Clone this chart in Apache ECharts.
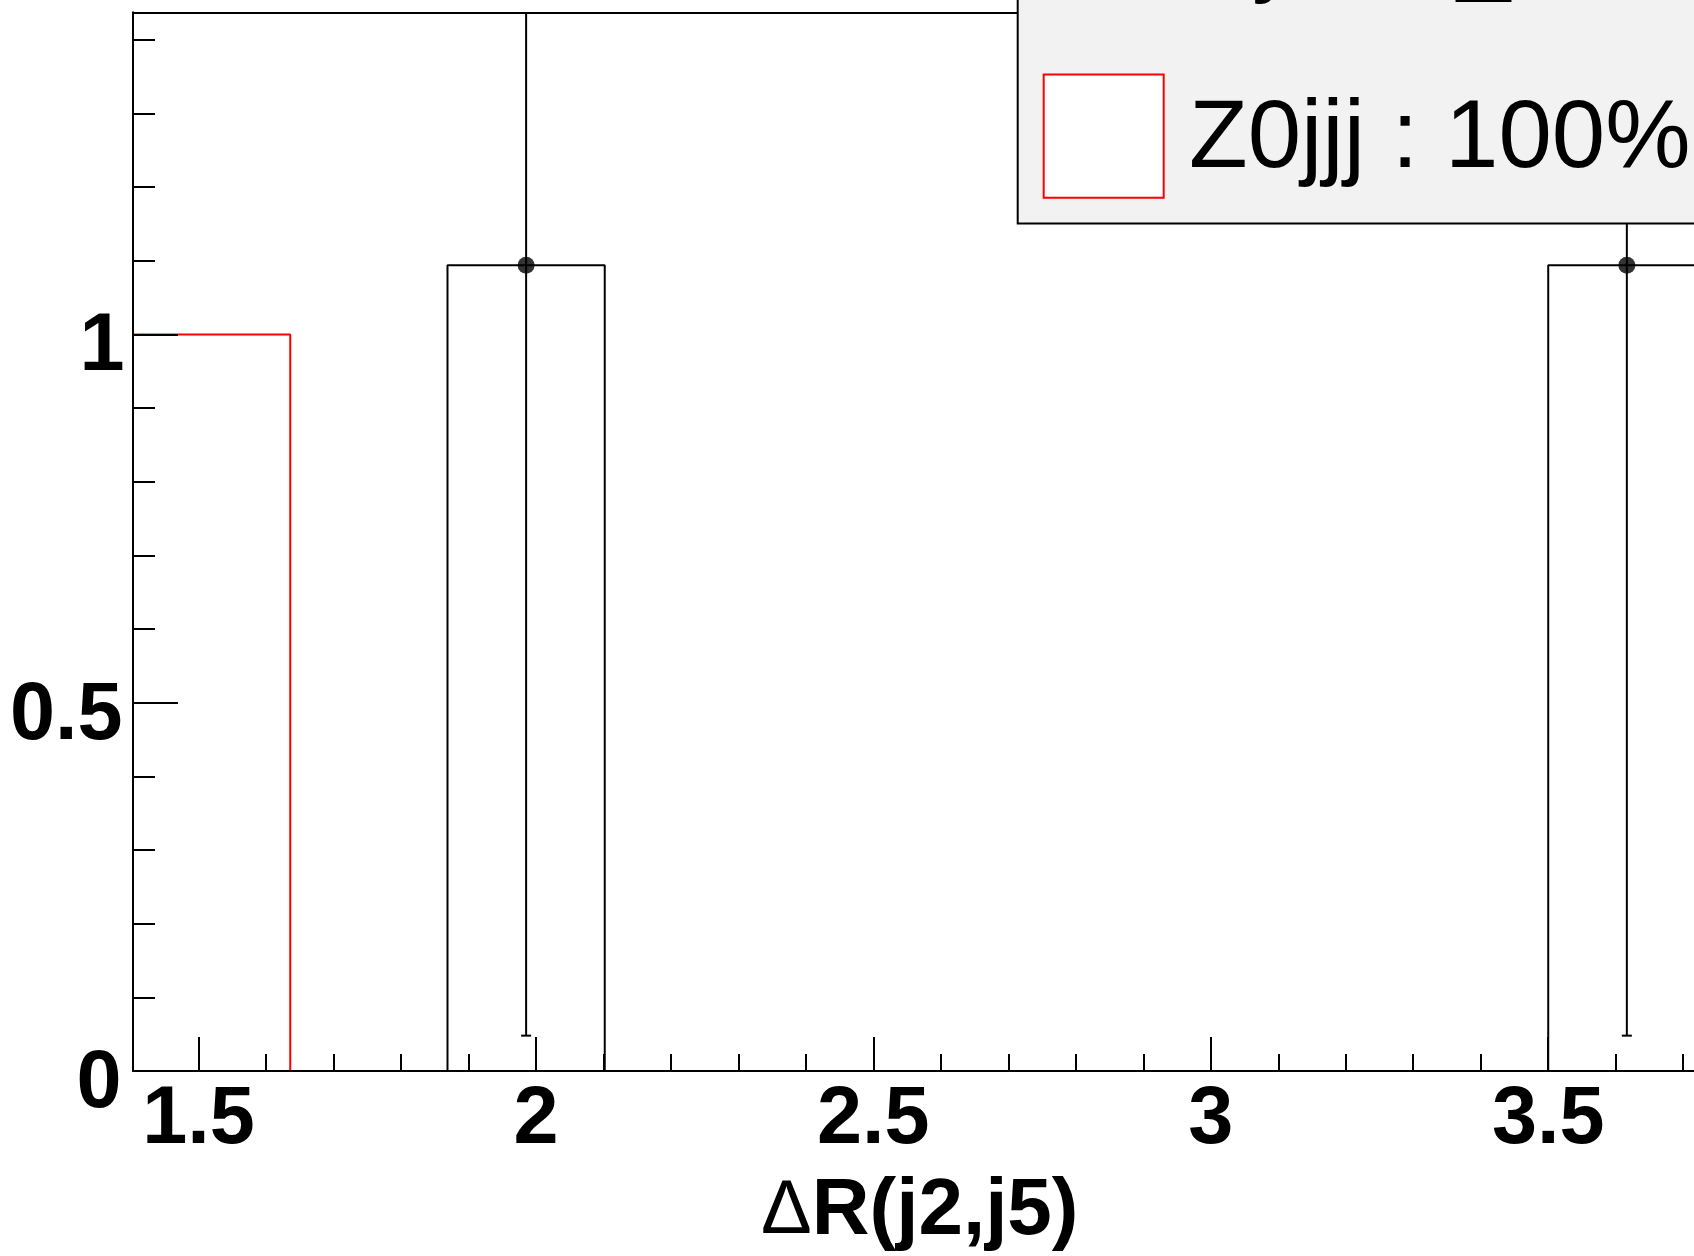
<!DOCTYPE html>
<html>
<head>
<meta charset="utf-8">
<script src="https://cdn.jsdelivr.net/npm/echarts@6/dist/echarts.min.js"></script>
<style>
html,body{margin:0;padding:0;background:#fff;}
#chart{width:1694px;height:1256px;}
</style>
</head>
<body>
<div id="chart"></div>
<script>
// ---- data ----
const binLowEdges  = [1.403, 1.636, 1.869, 2.102, 2.335, 2.568, 2.801, 3.034, 3.267, 3.500];
const binHighEdges = [1.636, 1.869, 2.102, 2.335, 2.568, 2.801, 3.034, 3.267, 3.500, 3.733];
const z0jjjValues  = [1, 0, 0, 0, 0, 0, 0, 0, 0, 0];
const dataValues   = [0, 0, 1.094, 0, 0, 0, 0, 0, 0, 1.094];
const dataErrors   = [0, 0, 1.046, 0, 0, 0, 0, 0, 0, 1.046];
const xMajorTicks  = [1.5, 2, 2.5, 3, 3.5];
const xMinorTicks  = [1.6, 1.7, 1.8, 1.9, 2.1, 2.2, 2.3, 2.4, 2.6, 2.7, 2.8, 2.9, 3.1, 3.2, 3.3, 3.4, 3.6, 3.7];
const yMajorTicks  = [0, 0.5, 1];
const yMinorTicks  = [0.1, 0.2, 0.3, 0.4, 0.6, 0.7, 0.8, 0.9, 1.1, 1.2, 1.3, 1.4];
const xRange = [1.403, 3.716];   // visible part of the (cropped) frame
const yRange = [0, 1.4373];
const legendLabel = 'Z0jjj : 100%';
const xTitleSymbol = 'Δ';
const xTitleText = 'R(j2,j5)';

// ---- build library inputs ----
function stepOutline(vals) {
  const pts = [[binLowEdges[0], 0]];
  vals.forEach((v, i) => { pts.push([binLowEdges[i], v]); pts.push([binHighEdges[i], v]); });
  pts.push([binHighEdges[binHighEdges.length - 1], 0]);
  return pts;
}
const points = [];
dataValues.forEach((v, i) => {
  if (v > 0) points.push([(binLowEdges[i] + binHighEdges[i]) / 2, v, dataErrors[i]]);
});

const FONT = '"Liberation Sans", Arial, Helvetica, sans-serif';
const chart = echarts.init(document.getElementById('chart'), null, {renderer: 'canvas'});

const labelStyle = {fontSize: 81, fontWeight: 'bold', fontFamily: FONT, color: '#000'};

const option = {
  animation: false,
  backgroundColor: '#fff',
  grid: {left: 133, top: 12.3, right: 0, bottom: 185, show: false},
  xAxis: [
    {type: 'value', min: xRange[0], max: xRange[1], position: 'bottom', z: 10,
     axisLine: {show: true, onZero: false, lineStyle: {color: '#000', width: 2}},
     axisTick: {show: true, inside: true, length: 34, customValues: xMajorTicks, lineStyle: {color: '#000', width: 2}},
     axisLabel: Object.assign({show: true, margin: 9, customValues: xMajorTicks, formatter: v => String(v)}, labelStyle),
     splitLine: {show: false}, minorTick: {show: false}},
    {type: 'value', min: xRange[0], max: xRange[1], position: 'bottom', offset: 0, z: 10,
     axisLine: {show: false},
     axisTick: {show: true, inside: true, length: 17, customValues: xMinorTicks, lineStyle: {color: '#000', width: 2}},
     axisLabel: {show: false}, splitLine: {show: false}},
    {type: 'value', min: xRange[0], max: xRange[1], position: 'top', offset: 0, z: 10,
     axisLine: {show: true, onZero: false, lineStyle: {color: '#000', width: 2}},
     axisTick: {show: false}, axisLabel: {show: false}, splitLine: {show: false}}
  ],
  yAxis: [
    {type: 'value', min: yRange[0], max: yRange[1], position: 'left', z: 10,
     axisLine: {show: true, onZero: false, lineStyle: {color: '#000', width: 2}},
     axisTick: {show: true, inside: true, length: 45, customValues: yMajorTicks, lineStyle: {color: '#000', width: 2}},
     axisLabel: {show: true, margin: -1.5, customValues: yMajorTicks,
       formatter: v => (v === 1 ? '{one|1}' : (v === 0 ? '{zero|0}' : '{n|' + v + '}')),
       rich: {
         one:  Object.assign({padding: [27, 10, 0, 0]}, labelStyle),
         zero: Object.assign({padding: [27, 13, 0, 0]}, labelStyle),
         n:    Object.assign({padding: [27, 12, 0, 0]}, labelStyle)
       }},
     splitLine: {show: false}},
    {type: 'value', min: yRange[0], max: yRange[1], position: 'left', offset: 0, z: 10,
     axisLine: {show: false},
     axisTick: {show: true, inside: true, length: 22, customValues: yMinorTicks, lineStyle: {color: '#000', width: 2}},
     axisLabel: {show: false}, splitLine: {show: false}}
  ],
  series: [
    {name: 'Z0jjj', type: 'line', xAxisIndex: 0, yAxisIndex: 0, data: stepOutline(z0jjjValues),
     symbol: 'none', lineStyle: {color: '#ff0000', width: 2}, z: 2, silent: true},
    {name: 'data-hist', type: 'line', xAxisIndex: 0, yAxisIndex: 0, data: stepOutline(dataValues),
     symbol: 'none', lineStyle: {color: '#000', width: 2}, z: 3, silent: true},
    {name: 'errors', type: 'custom', xAxisIndex: 0, yAxisIndex: 0, data: points, z: 4, silent: true,
     encode: {x: 0, y: 1},
     renderItem: function (params, api) {
       const x = api.value(0), v = api.value(1), e = api.value(2);
       const hi = Math.min(v + e, yRange[1]);
       const lo = Math.max(v - e, yRange[0]);
       const pHi = api.coord([x, hi]);
       const pLo = api.coord([x, lo]);
       const children = [{type: 'line', shape: {x1: pHi[0], y1: pHi[1], x2: pLo[0], y2: pLo[1]},
                          style: {stroke: '#000', lineWidth: 2}}];
       if (v - e > yRange[0]) children.push({type: 'line', shape: {x1: pLo[0] - 5, y1: pLo[1], x2: pLo[0] + 5, y2: pLo[1]},
                          style: {stroke: '#000', lineWidth: 2}});
       if (v + e < yRange[1]) children.push({type: 'line', shape: {x1: pHi[0] - 5, y1: pHi[1], x2: pHi[0] + 5, y2: pHi[1]},
                          style: {stroke: '#000', lineWidth: 2}});
       return {type: 'group', children: children};
     }},
    {name: 'data', type: 'scatter', xAxisIndex: 0, yAxisIndex: 0, data: points.map(p => [p[0], p[1]]),
     symbol: 'circle', symbolSize: 17, itemStyle: {color: '#000'}, z: 5, silent: true}
  ],
  graphic: [
    {type: 'rect', z: 100, shape: {x: 1017.7, y: -20, width: 760, height: 243.6},
     style: {fill: '#f2f2f2', stroke: '#000', lineWidth: 2}},
    {type: 'text', z: 101, x: 1252, y: -42.8,
     style: {text: 'y', font: '96px ' + FONT, fill: '#000', verticalAlign: 'middle', textVerticalAlign: 'middle'}},
    {type: 'text', z: 101, x: 1457, y: -43.5,
     style: {text: '_', font: '96px ' + FONT, fill: '#000', verticalAlign: 'middle', textVerticalAlign: 'middle'}},
    {type: 'rect', z: 101, shape: {x: 1043.7, y: 74.5, width: 120, height: 123.2},
     style: {fill: '#fff', stroke: '#ff0000', lineWidth: 2}},
    {type: 'text', z: 101, x: 1189, y: 141,
     style: {text: legendLabel, font: '96px ' + FONT, fill: '#000', verticalAlign: 'middle', textVerticalAlign: 'middle'}},
    {type: 'text', z: 101, x: 761, y: 1212,
     style: {text: '{d|' + xTitleSymbol + '}{r|' + xTitleText + '}', verticalAlign: 'middle', textVerticalAlign: 'middle',
       rich: {
         d: {fontSize: 76, fontWeight: 'normal', fontFamily: FONT, fill: '#000', color: '#000'},
         r: {fontSize: 80, fontWeight: 'bold', fontFamily: FONT, fill: '#000', color: '#000'}
       }}}
  ]
};
chart.setOption(option);
</script>
</body>
</html>
